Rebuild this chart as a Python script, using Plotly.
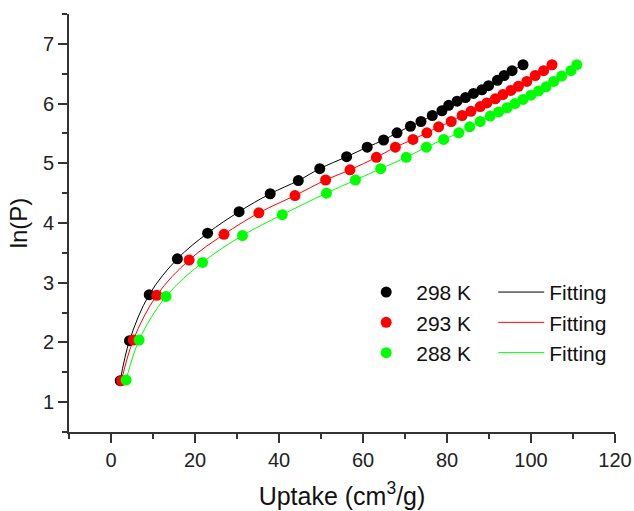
import plotly.graph_objects as go

# ---- data ----
series_names = ["298 K", "293 K", "288 K"]
series_colors = ["#000000", "#FF0000", "#00FF00"]

uptake_298 = [2.2, 4.4, 9.1, 15.8, 23.0, 30.5, 37.9, 44.6, 49.7, 56.1, 61.0, 64.9, 68.1,
              71.3, 73.8, 76.5, 78.8, 80.4, 82.4, 84.4, 86.3, 88.3, 89.9, 92.0, 93.6, 95.5, 98.1]
lnp_298 = [1.36, 2.03, 2.80, 3.40, 3.83, 4.19, 4.49, 4.71, 4.91, 5.11, 5.27, 5.39, 5.51,
           5.62, 5.70, 5.80, 5.88, 5.97, 6.04, 6.10, 6.17, 6.23, 6.30, 6.39, 6.47, 6.55, 6.65]

uptake_293 = [2.5, 5.3, 10.9, 18.6, 26.9, 35.2, 43.8, 51.1, 56.9, 63.2, 67.7, 71.9, 75.2,
              78.0, 81.0, 83.6, 85.7, 87.9, 89.5, 91.5, 93.3, 95.2, 97.0, 99.0, 101.0, 103.0, 105.0]
lnp_293 = [1.36, 2.04, 2.79, 3.38, 3.81, 4.17, 4.46, 4.72, 4.89, 5.10, 5.27, 5.40, 5.51,
           5.61, 5.70, 5.80, 5.87, 5.95, 6.01, 6.08, 6.15, 6.22, 6.29, 6.37, 6.47, 6.55, 6.65]

uptake_288 = [3.6, 6.7, 13.1, 21.8, 31.3, 40.8, 51.3, 58.2, 64.2, 70.3, 75.1, 79.2, 82.8,
              85.4, 87.9, 90.3, 92.3, 94.3, 96.2, 98.1, 100.0, 101.8, 103.6, 105.4, 107.3, 109.5, 110.9]
lnp_288 = [1.37, 2.04, 2.77, 3.34, 3.79, 4.14, 4.50, 4.72, 4.91, 5.10, 5.27, 5.40, 5.51,
           5.61, 5.70, 5.79, 5.86, 5.93, 6.00, 6.07, 6.14, 6.21, 6.28, 6.37, 6.46, 6.55, 6.65]

x_ticks = [0, 20, 40, 60, 80, 100, 120]
y_ticks = [1, 2, 3, 4, 5, 6, 7]
fit_label = "Fitting"

xs = [uptake_298, uptake_293, uptake_288]
ys = [lnp_298, lnp_293, lnp_288]

FONT = "Liberation Sans, Arial, sans-serif"

fig = go.Figure()

# fitting lines (drawn first, beneath markers)
for name, color, x, y in zip(series_names, series_colors, xs, ys):
    fig.add_trace(go.Scatter(
        x=x, y=y, mode="lines", name=fit_label,
        line=dict(color=color, width=1, shape="spline", smoothing=1.0),
        legend="legend2", showlegend=True,
    ))

# data points
for name, color, x, y in zip(series_names, series_colors, xs, ys):
    fig.add_trace(go.Scatter(
        x=x, y=y, mode="markers", name=name,
        marker=dict(color=color, size=11, line=dict(width=0)),
        legend="legend",
    ))

axis_common = dict(
    showline=True, linecolor="#333333", linewidth=2,
    ticks="outside", ticklen=9, tickwidth=2, tickcolor="#333333",
    showgrid=False, zeroline=False, mirror=False, automargin=False,
    tickfont=dict(family=FONT, size=20, color="#222222"),
)

fig.update_xaxes(
    range=[-10, 120], tickvals=x_ticks,
    minor=dict(ticks="outside", ticklen=5, tickwidth=2, tickcolor="#333333", dtick=10, tick0=0, showgrid=False),
    title=dict(text="Uptake (cm<sup>3</sup>/g)", font=dict(family=FONT, size=25, color="#111111"), standoff=17),
    **axis_common,
)
fig.update_yaxes(
    range=[0.5, 7.5], tickvals=y_ticks,
    minor=dict(ticks="outside", ticklen=5, tickwidth=2, tickcolor="#333333", dtick=0.5, tick0=0, showgrid=False),
    title=dict(text="ln(P)", font=dict(family=FONT, size=24, color="#111111"), standoff=8),
    **axis_common,
)

legend_font = dict(family=FONT, size=21, color="#111111")
fig.update_layout(
    width=634, height=511,
    margin=dict(l=69, r=19, t=14, b=79),
    plot_bgcolor="white", paper_bgcolor="white",
    legend=dict(x=0.526, y=0.383, xanchor="left", yanchor="top", font=legend_font,
                bgcolor="rgba(0,0,0,0)", itemwidth=50, tracegroupgap=0),
    legend2=dict(x=0.777, y=0.383, xanchor="left", yanchor="top", font=legend_font,
                 bgcolor="rgba(0,0,0,0)", itemwidth=46, tracegroupgap=0),
)

fig.write_html("out.html")
